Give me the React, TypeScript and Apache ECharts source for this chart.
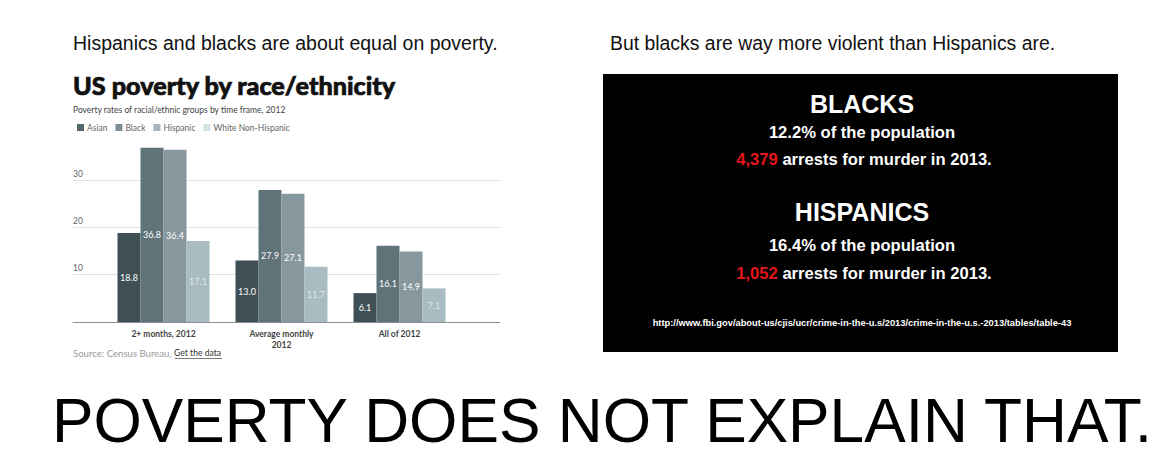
import React, { useEffect, useRef } from "react";
import * as echarts from "echarts";

// ---- Left chart data ----
const categories = ["2+ months, 2012", "Average monthly\n2012", "All of 2012"];
const seriesNames = ["Asian", "Black", "Hispanic", "White Non-Hispanic"];
const asian = [18.8, 13.0, 6.1];
const black = [36.8, 27.9, 16.1];
const hispanic = [36.4, 27.1, 14.9];
const whiteNonHispanic = [17.1, 11.7, 7.1];
const seriesValues = [asian, black, hispanic, whiteNonHispanic];
const barColors = ["#3e4f55", "#607379", "#86979d", "#a9bcc2"];
const legendColors = ["#54656b", "#7d8d93", "#a7b6bb", "#d4e2e6"];
const labelColors = ["#ffffff", "#ffffff", "#ffffff", "#dde7ea"];

// ---- Right panel data ----
const groups = ["BLACKS", "HISPANICS"];
const populationShare = ["12.2%", "16.4%"];
const murderArrests = ["4,379", "1,052"];
const sourceUrl =
  "http://www.fbi.gov/about-us/cjis/ucr/crime-in-the-u.s/2013/crime-in-the-u.s.-2013/tables/table-43";

const ARIAL = "'Liberation Sans', Arial, sans-serif";
const LATO = "Lato, 'Open Sans', sans-serif";

export default function App() {
  const ref = useRef<HTMLDivElement>(null);

  useEffect(() => {
    if (!ref.current) return;
    const chart = echarts.init(ref.current, undefined, { renderer: "svg" });

    const series: any[] = seriesNames.map((name, i) => ({
      type: "bar",
      name,
      xAxisIndex: 1,
      yAxisIndex: 1,
      data: seriesValues[i],
      barWidth: 23,
      barGap: "0%",
      itemStyle: { color: barColors[i] },
      label: {
        show: true,
        position: "inside",
        color: labelColors[i],
        fontSize: 9,
        fontFamily: LATO,
        formatter: (p: any) => Number(p.value).toFixed(1),
      },
    }));

    const blockRows = [
      [104, 132.5, 159.5],
      [211.7, 245, 273.7],
    ];
    const graphic: any[] = [
      {
        type: "text",
        style: {
          text: "Hispanics and blacks are about equal on poverty.",
          x: 73,
          y: 43,
          fill: "#111",
          fontSize: 19.5,
          fontFamily: ARIAL,
          align: "left",
          verticalAlign: "middle",
        },
      },
      {
        type: "text",
        style: {
          text: "But blacks are way more violent than Hispanics are.",
          x: 610,
          y: 43,
          fill: "#111",
          fontSize: 19.4,
          fontFamily: ARIAL,
          align: "left",
          verticalAlign: "middle",
        },
      },
      {
        type: "text",
        style: {
          text: "US poverty by race/ethnicity",
          x: 73,
          y: 85,
          fill: "#111",
          stroke: "#111",
          lineWidth: 0.7,
          fontSize: 25.2,
          fontWeight: 900,
          fontFamily: LATO,
          align: "left",
          verticalAlign: "middle",
        },
      },
      {
        type: "text",
        style: {
          text: "Poverty rates of racial/ethnic groups by time frame, 2012",
          x: 73,
          y: 110,
          fill: "#444",
          fontSize: 8.5,
          fontFamily: LATO,
          align: "left",
          verticalAlign: "middle",
        },
      },
      {
        type: "text",
        style: {
          text: "{g|Source: Census Bureau, }{d|Get the data}",
          x: 73,
          y: 353,
          align: "left",
          verticalAlign: "middle",
          rich: {
            g: { fill: "#999", fontSize: 9.6, fontFamily: LATO },
            d: { fill: "#333", fontSize: 8.6, fontFamily: LATO },
          },
        },
      },
      {
        type: "line",
        shape: { x1: 175, y1: 358.5, x2: 222, y2: 358.5 },
        style: { stroke: "#555", lineWidth: 0.8 },
      },
      {
        type: "rect",
        shape: { x: 603, y: 74, width: 515, height: 278 },
        style: { fill: "#000" },
      },
      {
        type: "text",
        style: {
          text: sourceUrl,
          x: 862,
          y: 322.5,
          fill: "#fff",
          fontSize: 9.3,
          fontWeight: "bold",
          fontFamily: "'Liberation Sans Narrow', " + ARIAL,
          align: "center",
          verticalAlign: "middle",
        },
      },
      {
        type: "text",
        style: {
          text: "POVERTY DOES NOT EXPLAIN THAT.",
          x: 52,
          y: 420.5,
          fill: "#000",
          fontSize: 62.2,
          fontFamily: ARIAL,
          align: "left",
          verticalAlign: "middle",
        },
      },
    ];

    groups.forEach((g, i) => {
      const rows = blockRows[i];
      graphic.push(
        {
          type: "text",
          style: {
            text: g,
            x: 862,
            y: rows[0],
            fill: "#fff",
            fontSize: 25,
            fontWeight: "bold",
            fontFamily: ARIAL,
            align: "center",
            verticalAlign: "middle",
          },
        },
        {
          type: "text",
          style: {
            text: populationShare[i] + " of the population",
            x: 862,
            y: rows[1],
            fill: "#fff",
            fontSize: 16.6,
            fontWeight: "bold",
            fontFamily: ARIAL,
            align: "center",
            verticalAlign: "middle",
          },
        },
        {
          type: "text",
          style: {
            text: "{r|" + murderArrests[i] + "}{w| arrests for murder in 2013.}",
            x: 864,
            y: rows[2],
            align: "center",
            verticalAlign: "middle",
            rich: {
              r: { fill: "#e8141b", fontSize: 16.6, fontWeight: "bold", fontFamily: ARIAL },
              w: { fill: "#fff", fontSize: 16.6, fontWeight: "bold", fontFamily: ARIAL },
            },
          },
        }
      );
    });

    const option: any = {
      animation: false,
      backgroundColor: "#ffffff",
      legend: {
        left: 72,
        top: 118,
        itemWidth: 7,
        itemHeight: 7,
        itemGap: 8,
        icon: "rect",
        textStyle: { fontSize: 8.5, color: "#666", fontFamily: LATO, padding: [0, 0, 0, -2] },
        data: seriesNames.map((n, i) => ({ name: n, itemStyle: { color: legendColors[i] } })),
      },
      grid: [
        { left: 73, width: 427, top: 180, height: 142 },
        { left: 104.5, width: 354, top: 132.7, height: 189.3 },
      ],
      xAxis: [
        {
          type: "category",
          gridIndex: 0,
          data: [""],
          axisLine: { show: true, lineStyle: { color: "#8f8f8f", width: 1 } },
          axisTick: { show: false },
          axisLabel: { show: false },
          z: 5,
        },
        {
          type: "category",
          gridIndex: 1,
          data: categories,
          axisLine: { show: false },
          axisTick: { show: false },
          axisLabel: {
            margin: 6,
            fontSize: 8.5,
            fontWeight: "bold",
            color: "#444",
            lineHeight: 11,
            fontFamily: LATO,
            interval: 0,
          },
        },
      ],
      yAxis: [
        {
          type: "value",
          gridIndex: 0,
          min: 0,
          max: 30,
          interval: 10,
          axisLine: { show: false },
          axisTick: { show: false },
          splitLine: { show: true, lineStyle: { color: "#e2e2e2", width: 1 } },
          axisLabel: {
            inside: true,
            margin: 0,
            align: "left",
            verticalAlign: "bottom",
            padding: [0, 0, 2, 0],
            fontSize: 8.5,
            color: "#666",
            fontFamily: LATO,
            formatter: (v: number) => (v === 0 ? "" : String(v)),
          },
        },
        {
          type: "value",
          gridIndex: 1,
          min: 0,
          max: 40,
          interval: 10,
          show: false,
          splitLine: { show: false },
        },
      ],
      series,
      graphic,
    };

    chart.setOption(option);
    return () => chart.dispose();
  }, []);

  return (
    <div
      ref={ref}
      style={{ position: "fixed", left: 0, top: 0, width: 1170, height: 465, background: "#fff" }}
    />
  );
}
